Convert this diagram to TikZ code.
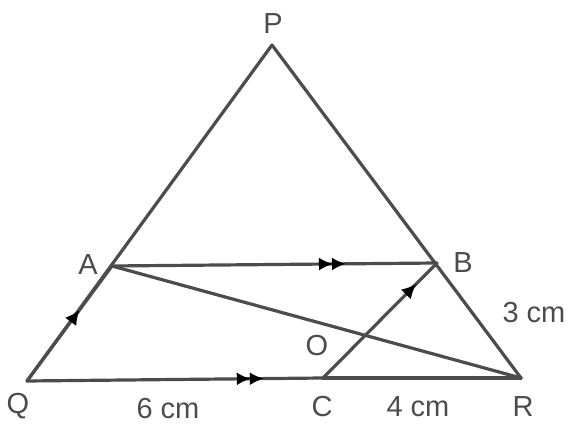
\documentclass[tikz,border=0pt]{standalone}
\usepackage{fontspec}
\setmainfont{Liberation Sans}
\usetikzlibrary{arrows.meta,decorations.markings}
\begin{document}
\begin{tikzpicture}[x=1pt,y=-1pt,
  seg/.style={draw=black!70,line width=3.2pt,line cap=round,line join=round},
  lbl/.style={text=black!70,font=\fontsize{29}{31}\selectfont,inner sep=0pt},
  tipst/.style={Latex[length=15pt,width=14pt]},
  onearrow/.style={postaction={decorate,decoration={markings,
      mark=at position #1 with {\arrow[black]{Latex[length=15pt,width=14pt]}}}}},
  twoarrow/.style={postaction={decorate,decoration={markings,
      mark=at position #1 with {\arrow[black]{Latex[length=14pt,width=13pt]}},
      mark=at position #1 with {\arrow[black,xshift=-13pt]{Latex[length=14pt,width=13pt]}}}}}]
\useasboundingbox (0,0) rectangle (568,427);
\coordinate (P) at (272,45);
\coordinate (Q) at (27,381);
\coordinate (R) at (521,378);
\coordinate (A) at (112,266);
\coordinate (B) at (437,263);
\coordinate (C) at (323,378);
\coordinate (O) at (intersection of A--R and C--B);
% sides
\draw[seg] (Q) -- (P) -- (R);
\draw[seg,onearrow=0.62] (Q) -- (A);
\draw[seg,twoarrow=0.72] (A) -- (B);
\draw[seg,twoarrow=0.8] (Q) -- (C);
\draw[seg] (C) -- (R);
\draw[seg] (A) -- (R);
\draw[seg,onearrow=0.82] (C) -- (B);
% labels
\node[lbl] (lP) at (273,24) {P};
\node[lbl] (lA) at (88,265) {A};
\node[lbl] (lB) at (463,263) {B};
\node[lbl] (lQ) at (18,406) {Q};
\node[lbl] (lC) at (322,407) {C};
\node[lbl] (lR) at (523,407) {R};
\node[lbl] (lO) at (317,346) {O};
\node[lbl] (l3) at (534,313) {3 cm};
\node[lbl] (l6) at (168,409) {6 cm};
\node[lbl] (l4) at (418,407) {4 cm};
\end{tikzpicture}
\end{document}
